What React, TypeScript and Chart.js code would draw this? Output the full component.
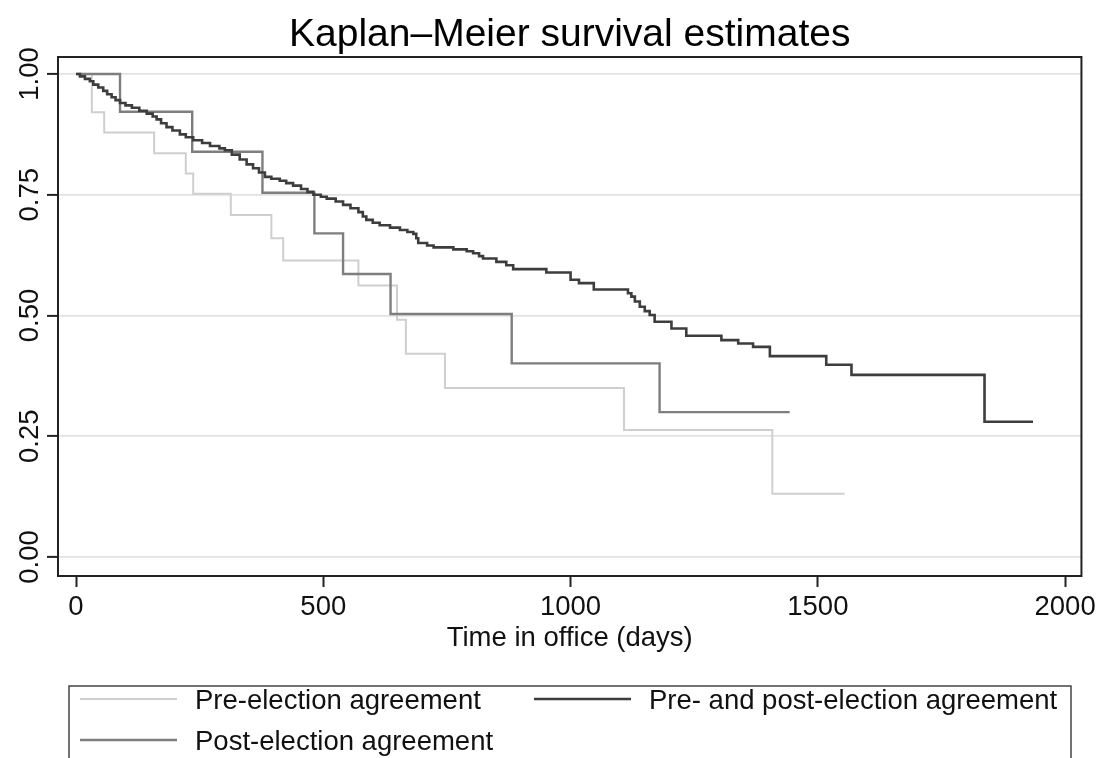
import React, { useEffect, useRef } from 'react';
import { Chart, registerables } from 'chart.js';

Chart.register(...registerables);

// Kaplan–Meier step curves: day of each drop and survival after it
const PRE_DAYS = [0, 32, 57, 158, 222, 237, 313, 395, 419, 571, 649, 667, 746, 1108, 1408, 1554];
const PRE_SURV = [1, 0.921, 0.879, 0.836, 0.794, 0.752, 0.708, 0.66, 0.614, 0.562, 0.491, 0.421, 0.35, 0.263, 0.131, 0.131];

const POST_DAYS = [0, 89, 235, 377, 482, 540, 636, 881, 1180, 1443];
const POST_SURV = [1, 0.922, 0.839, 0.754, 0.67, 0.586, 0.503, 0.401, 0.3, 0.3];

const BOTH_DAYS = [
  0, 8, 18, 28, 35, 45, 55, 63, 72, 80,
  89, 100, 113, 128, 143, 155, 163, 172, 183, 195,
  210, 222, 237, 255, 271, 290, 301, 315, 331, 345,
  358, 370, 382, 395, 412, 425, 439, 455, 468, 480,
  495, 507, 525, 540, 555, 571, 580, 587, 600, 614,
  635, 655, 670, 682, 688, 692, 710, 723, 763, 790,
  803, 815, 823, 850, 870, 884, 951, 1000, 1017, 1047,
  1116, 1123, 1130, 1140, 1150, 1160, 1170, 1204, 1234, 1305,
  1339, 1369, 1403, 1517, 1568, 1837, 1935,
];
const BOTH_SURV = [
  1, 0.995, 0.99, 0.985, 0.978, 0.972, 0.965, 0.958, 0.952, 0.946,
  0.94, 0.935, 0.93, 0.924, 0.918, 0.912, 0.906, 0.898, 0.89, 0.883,
  0.875, 0.869, 0.863, 0.857, 0.851, 0.846, 0.842, 0.833, 0.823, 0.813,
  0.805, 0.796, 0.787, 0.783, 0.779, 0.774, 0.769, 0.762, 0.756, 0.75,
  0.746, 0.742, 0.736, 0.729, 0.722, 0.714, 0.705, 0.698, 0.692, 0.687,
  0.682, 0.677, 0.673, 0.669, 0.66, 0.65, 0.645, 0.641, 0.637, 0.633,
  0.629, 0.623, 0.618, 0.611, 0.604, 0.596, 0.589, 0.574, 0.567, 0.554,
  0.546, 0.539, 0.529, 0.518, 0.509, 0.501, 0.487, 0.473, 0.458, 0.449,
  0.442, 0.435, 0.416, 0.398, 0.377, 0.28, 0.28,
];

const SERIES_LABELS = [
  'Pre-election agreement',
  'Pre- and post-election agreement',
  'Post-election agreement',
];

const X_TICKS = [0, 500, 1000, 1500, 2000];
const X_TICK_LABELS = ['0', '500', '1000', '1500', '2000'];
const Y_TICKS = [0, 0.25, 0.5, 0.75, 1];
const Y_TICK_LABELS = ['0.00', '0.25', '0.50', '0.75', '1.00'];

const TITLE = 'Kaplan–Meier survival estimates';
const X_TITLE = 'Time in office (days)';

const FONT = '"Liberation Sans", Arial, Helvetica, sans-serif';
const TEXT_SIZE = 27.5;
const TITLE_SIZE = 39;
const INK = '#111111';
const FRAME = '#222222';
const GRID = '#e2e2e2';

const toPoints = (xs: number[], ys: number[]) => xs.map((x, i) => ({ x, y: ys[i] }));

// frame, rotated y labels, titles and the boxed two-column key
const decorations = {
  id: 'kmDecorations',
  afterDraw(chart: any) {
    const { ctx, chartArea: a, scales } = chart;
    ctx.save();

    ctx.strokeStyle = FRAME;
    ctx.lineWidth = 2;
    ctx.strokeRect(a.left, a.top, a.right - a.left, a.bottom - a.top);

    ctx.fillStyle = INK;
    ctx.font = `${TEXT_SIZE}px ${FONT}`;
    ctx.textAlign = 'center';
    ctx.textBaseline = 'alphabetic';
    Y_TICKS.forEach((v, i) => {
      const py = scales.y.getPixelForValue(v);
      ctx.save();
      ctx.translate(a.left - 20, py);
      ctx.rotate(-Math.PI / 2);
      ctx.fillText(Y_TICK_LABELS[i], 0, 0);
      ctx.restore();
    });

    const cx = (a.left + a.right) / 2;
    ctx.fillText(X_TITLE, cx, 646);

    ctx.font = `${TITLE_SIZE}px ${FONT}`;
    ctx.fillStyle = '#000000';
    ctx.fillText(TITLE, cx, 46);

    // key box
    ctx.strokeStyle = '#444444';
    ctx.lineWidth = 1.5;
    ctx.strokeRect(69, 686, 1002, 120);

    const slots = [
      { ds: 0, x: 80, y: 699 },
      { ds: 1, x: 534, y: 699 },
      { ds: 2, x: 80, y: 740 },
    ];
    ctx.font = `${TEXT_SIZE}px ${FONT}`;
    ctx.textAlign = 'left';
    slots.forEach((s) => {
      const d = chart.data.datasets[s.ds];
      ctx.strokeStyle = d.borderColor;
      ctx.lineWidth = d.borderWidth;
      ctx.beginPath();
      ctx.moveTo(s.x, s.y);
      ctx.lineTo(s.x + 97, s.y);
      ctx.stroke();
      ctx.fillStyle = INK;
      ctx.fillText(d.label, s.x + 115, s.y + 10);
    });

    ctx.restore();
  },
};

export default function App() {
  const canvasRef = useRef<HTMLCanvasElement | null>(null);

  useEffect(() => {
    if (!canvasRef.current) return;
    const chart = new Chart(canvasRef.current, {
      type: 'line',
      data: {
        datasets: [
          {
            label: SERIES_LABELS[0],
            data: toPoints(PRE_DAYS, PRE_SURV),
            borderColor: '#cfcfcf',
            borderWidth: 2,
            stepped: true,
            pointRadius: 0,
            order: 2,
          },
          {
            label: SERIES_LABELS[1],
            data: toPoints(BOTH_DAYS, BOTH_SURV),
            borderColor: '#3d3d3d',
            borderWidth: 2.6,
            stepped: true,
            pointRadius: 0,
            order: 0,
          },
          {
            label: SERIES_LABELS[2],
            data: toPoints(POST_DAYS, POST_SURV),
            borderColor: '#7e7e7e',
            borderWidth: 2.4,
            stepped: true,
            pointRadius: 0,
            order: 1,
          },
        ],
      },
      options: {
        animation: false,
        responsive: false,
        events: [],
        layout: { padding: { top: 57, left: 0, right: 18, bottom: 142 } },
        plugins: {
          legend: { display: false },
          title: { display: false },
          tooltip: { enabled: false },
        },
        scales: {
          x: {
            type: 'linear',
            min: -36.4,
            max: 2033,
            afterBuildTicks: (s: any) => {
              s.ticks = X_TICKS.map((value) => ({ value }));
            },
            afterFit: (s: any) => {
              s.height = 40;
            },
            border: { display: false },
            grid: {
              drawOnChartArea: false,
              drawTicks: true,
              tickLength: 11,
              tickColor: FRAME,
              tickWidth: 2,
            },
            ticks: {
              padding: 4,
              maxRotation: 0,
              autoSkip: false,
              color: INK,
              font: { family: FONT, size: TEXT_SIZE },
              callback: (v: any) => {
                const i = X_TICKS.indexOf(Number(v));
                return i >= 0 ? X_TICK_LABELS[i] : '';
              },
            },
          },
          y: {
            type: 'linear',
            min: -0.0393,
            max: 1.0352,
            afterBuildTicks: (s: any) => {
              s.ticks = Y_TICKS.map((value) => ({ value }));
            },
            afterFit: (s: any) => {
              s.width = 58;
            },
            border: { display: false },
            grid: {
              color: GRID,
              lineWidth: 1.8,
              drawTicks: true,
              tickLength: 11,
              tickColor: FRAME,
              tickWidth: 2,
            },
            ticks: { display: false },
          },
        },
      },
      plugins: [decorations],
    });
    return () => chart.destroy();
  }, []);

  return (
    <div
      style={{
        position: 'absolute',
        left: 0,
        top: 0,
        width: 1100,
        height: 758,
        overflow: 'hidden',
        background: '#ffffff',
      }}
    >
      <canvas ref={canvasRef} width={1100} height={758} style={{ display: 'block' }} />
    </div>
  );
}
